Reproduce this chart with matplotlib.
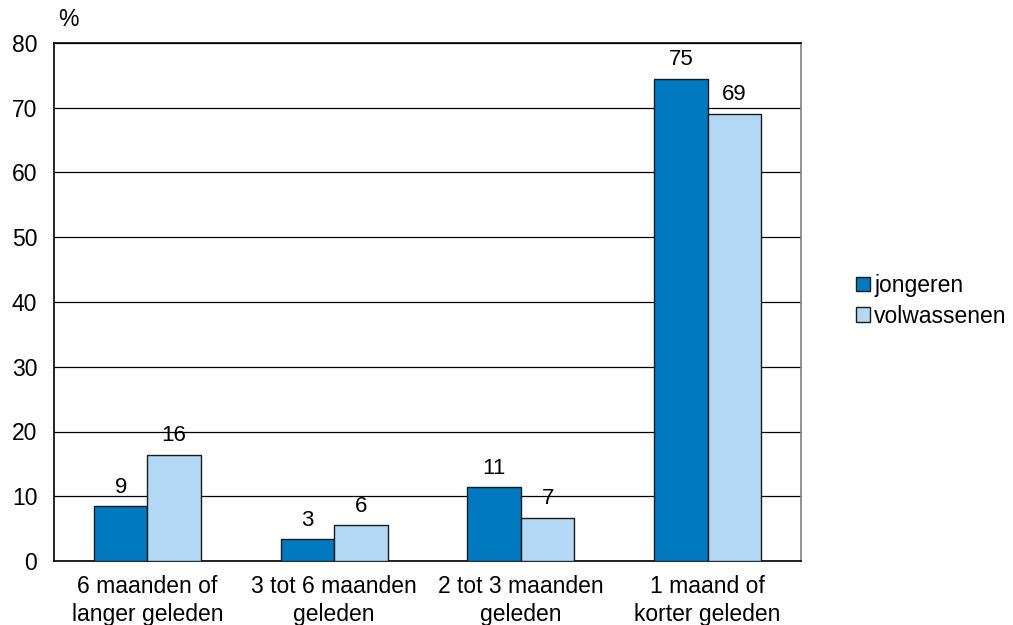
import matplotlib
matplotlib.use("Agg")
import matplotlib.pyplot as plt
import numpy as np

categories = ["6 maanden of\nlanger geleden", "3 tot 6 maanden\ngeleden",
              "2 tot 3 maanden\ngeleden", "1 maand of\nkorter geleden"]
jongeren = [8.5, 3.4, 11.4, 74.5]
volwassenen = [16.4, 5.5, 6.7, 69.1]
jongeren_labels = ["9", "3", "11", "75"]
volwassenen_labels = ["16", "6", "7", "69"]
series_names = ["jongeren", "volwassenen"]
yticks = [0, 10, 20, 30, 40, 50, 60, 70, 80]

plt.rcParams['font.family'] = ['Liberation Sans', 'DejaVu Sans']

fig = plt.figure(figsize=(10.13, 6.25), dpi=100)
ax = fig.add_axes([54/1013, 1-561/625, (801-54)/1013, (561-43)/625])

x = np.arange(len(categories))
w = 0.286
c1 = "#0079C1"
c2 = "#B3D8F3"
b1 = ax.bar(x - w/2, jongeren, w, color=c1, edgecolor="#1a1a1a", linewidth=1.0,
            label=series_names[0], zorder=3)
b2 = ax.bar(x + w/2, volwassenen, w, color=c2, edgecolor="#1a1a1a", linewidth=1.0,
            label=series_names[1], zorder=3)
ax.bar_label(b1, labels=jongeren_labels, padding=6, fontsize=16)
ax.bar_label(b2, labels=volwassenen_labels, padding=6, fontsize=16)

ax.set_xlim(-0.5, 3.5)
ax.set_ylim(0, 80)
ax.set_yticks(yticks)
ax.set_xticks(x)
ax.set_xticklabels(categories, linespacing=1.3)
ax.tick_params(axis='both', length=0, labelsize=16.5)
ax.tick_params(axis='y', pad=12)
ax.tick_params(axis='x', pad=10)
ax.yaxis.grid(True, color="#000000", linewidth=0.9, zorder=0)
ax.set_axisbelow(True)
for s in ["left", "top", "bottom"]:
    ax.spines[s].set_color("#000000")
    ax.spines[s].set_linewidth(1.2)
ax.spines["right"].set_color("#808080")
ax.spines["right"].set_linewidth(1.2)

fig.text(58/1013, 1-20/625, "%", fontsize=16.5, va="center", ha="left")

leg = fig.legend(handles=[b1, b2], labels=series_names, loc="center left",
                 bbox_to_anchor=(856/1013, 1-301/625), frameon=False, fontsize=16.5,
                 handlelength=0.6, handleheight=0.6, handletextpad=0.2,
                 labelspacing=0.33, borderaxespad=0, borderpad=0)

fig.savefig("out.png", dpi=100)
